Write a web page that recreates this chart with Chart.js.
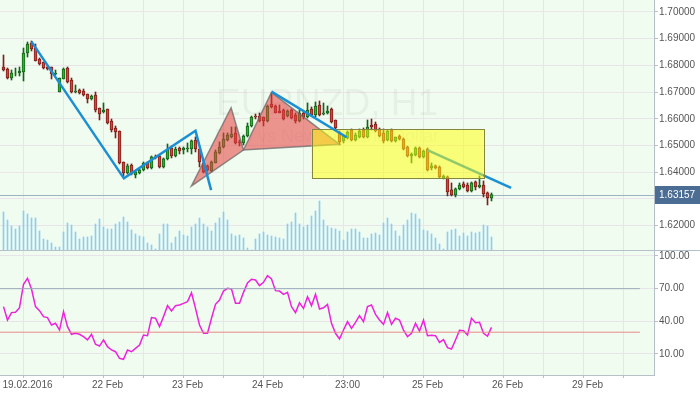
<!DOCTYPE html>
<html>
<head>
<meta charset="utf-8">
<script src="https://cdn.jsdelivr.net/npm/chart.js@4.4.1/dist/chart.umd.min.js"></script>
<style>
  html, body { margin: 0; padding: 0; background: #fff; }
  #wrap { position: relative; width: 700px; height: 394px; overflow: hidden; }
  #top { position: absolute; left: 0; top: 0; }
  #bottom { position: absolute; left: 0; top: 251px; }
</style>
</head>
<body>
<div id="wrap">
  <canvas id="top" width="700" height="251" style="width:700px;height:251px"></canvas>
  <canvas id="bottom" width="700" height="143" style="width:700px;height:143px"></canvas>
</div>
<script>
const symbol = "EURNZD, H1";
const symbolName = "Euro vs New Zealand Dollar";
const tickLabels = ["19.02.2016", "22 Feb", "23 Feb", "24 Feb", "23:00", "25 Feb", "26 Feb", "29 Feb"];
const tickIndex = [5, 25, 45, 65, 85, 105, 125, 145];

const opens = [
  1.67940, 1.67865, 1.67528, 1.67715, 1.67715, 1.67753, 1.68464, 1.68838, 1.68651, 1.68239,
  1.68127, 1.67940, 1.67940, 1.67678, 1.67004, 1.67491, 1.67903, 1.67453, 1.67004, 1.67079,
  1.67041, 1.66929, 1.66742, 1.66892, 1.66405, 1.66255, 1.66368, 1.65918, 1.65656, 1.65544,
  1.64383, 1.63972, 1.64271, 1.63897, 1.63972, 1.64084, 1.64346, 1.64159, 1.64571, 1.64608,
  1.64196, 1.64496, 1.64907, 1.64608, 1.64907, 1.64833, 1.64870, 1.64870, 1.65207, 1.64870,
  1.64346, 1.64234, 1.64046, 1.64346, 1.64720, 1.64945, 1.65207, 1.65319, 1.65469, 1.65132,
  1.65095, 1.65357, 1.65731, 1.66105, 1.66105, 1.66068, 1.65918, 1.66555, 1.66480, 1.66293,
  1.66330, 1.66105, 1.66330, 1.66143, 1.65918, 1.66218, 1.66068, 1.66368, 1.66143, 1.66517,
  1.66180, 1.66218, 1.66368, 1.65956, 1.65506, 1.65170, 1.65282, 1.65581, 1.65207, 1.65319,
  1.65581, 1.65319, 1.65768, 1.65806, 1.65619, 1.65469, 1.65207, 1.65581, 1.65170, 1.65357,
  1.65244, 1.64945, 1.64608, 1.64645, 1.64907, 1.64571, 1.64870, 1.64159, 1.64234, 1.64196,
  1.63784, 1.63822, 1.63335, 1.63148, 1.63373, 1.63560, 1.63522, 1.63298, 1.63635, 1.63448,
  1.63522, 1.63223, 1.63036
];
const highs = [
  1.68389, 1.67903, 1.67828, 1.67903, 1.67940, 1.68651, 1.68876, 1.68913, 1.68801, 1.68277,
  1.68127, 1.67977, 1.67940, 1.67828, 1.67528, 1.67903, 1.67940, 1.67528, 1.67266, 1.67116,
  1.67116, 1.66929, 1.66892, 1.67004, 1.66405, 1.66592, 1.66368, 1.65993, 1.65731, 1.65544,
  1.64383, 1.64309, 1.64309, 1.64046, 1.64121, 1.64383, 1.64383, 1.64608, 1.64645, 1.64645,
  1.64533, 1.65057, 1.64982, 1.64945, 1.64945, 1.64945, 1.65095, 1.65207, 1.65319, 1.64870,
  1.64383, 1.64271, 1.64421, 1.64833, 1.65132, 1.65469, 1.65469, 1.65694, 1.65694, 1.65207,
  1.65394, 1.65843, 1.66105, 1.66180, 1.66218, 1.66068, 1.66517, 1.66967, 1.66517, 1.66517,
  1.66368, 1.66330, 1.66368, 1.66218, 1.66330, 1.66255, 1.66592, 1.66442, 1.66630, 1.66667,
  1.66592, 1.66480, 1.66405, 1.65956, 1.65544, 1.65394, 1.65544, 1.65619, 1.65469, 1.65619,
  1.65656, 1.65956, 1.65993, 1.65881, 1.65656, 1.65619, 1.65581, 1.65619, 1.65319, 1.65394,
  1.65282, 1.64982, 1.64720, 1.64945, 1.64945, 1.64833, 1.64907, 1.64346, 1.64271, 1.64234,
  1.63897, 1.63859, 1.63597, 1.63410, 1.63597, 1.63635, 1.63597, 1.63635, 1.63672, 1.63859,
  1.63672, 1.63260, 1.63223
];
const lows = [
  1.67790, 1.67491, 1.67453, 1.67603, 1.67603, 1.67416, 1.68314, 1.68539, 1.68165, 1.68015,
  1.67865, 1.67828, 1.67491, 1.67640, 1.67004, 1.67491, 1.67341, 1.66967, 1.66967, 1.66929,
  1.66854, 1.66592, 1.66704, 1.66255, 1.65956, 1.66218, 1.65806, 1.65506, 1.65282, 1.64309,
  1.63859, 1.63934, 1.63897, 1.63784, 1.63934, 1.64046, 1.64121, 1.64121, 1.64496, 1.64159,
  1.64159, 1.64458, 1.64533, 1.64571, 1.64683, 1.64683, 1.64758, 1.64683, 1.64758, 1.64196,
  1.63972, 1.64046, 1.64009, 1.64346, 1.64683, 1.64907, 1.65170, 1.65282, 1.65057, 1.64982,
  1.65020, 1.65319, 1.65694, 1.65993, 1.65881, 1.65731, 1.65881, 1.66405, 1.66218, 1.66218,
  1.65956, 1.66068, 1.65993, 1.65843, 1.65881, 1.65993, 1.66031, 1.66105, 1.66068, 1.66105,
  1.66143, 1.66180, 1.65843, 1.65581, 1.65020, 1.65095, 1.65244, 1.65170, 1.65170, 1.65282,
  1.65282, 1.65282, 1.65581, 1.65506, 1.65319, 1.65095, 1.65170, 1.65132, 1.65132, 1.65207,
  1.64833, 1.64571, 1.64346, 1.64608, 1.64533, 1.64533, 1.64046, 1.64084, 1.64121, 1.63784,
  1.63747, 1.63111, 1.63111, 1.63073, 1.63335, 1.63410, 1.63260, 1.63260, 1.63335, 1.63410,
  1.63073, 1.62773, 1.62923
];
const closes = [
  1.67828, 1.67528, 1.67715, 1.67715, 1.67790, 1.68464, 1.68801, 1.68614, 1.68165, 1.68052,
  1.67903, 1.67865, 1.67678, 1.67715, 1.67528, 1.67865, 1.67378, 1.67004, 1.67041, 1.66967,
  1.66892, 1.66742, 1.66854, 1.66330, 1.66180, 1.66330, 1.65843, 1.65581, 1.65506, 1.64346,
  1.63972, 1.64234, 1.63934, 1.64009, 1.64084, 1.64346, 1.64159, 1.64571, 1.64533, 1.64196,
  1.64496, 1.64833, 1.64608, 1.64870, 1.64795, 1.64907, 1.64907, 1.65170, 1.64870, 1.64383,
  1.64009, 1.64084, 1.64383, 1.64758, 1.64945, 1.65244, 1.65394, 1.65432, 1.65095, 1.65095,
  1.65357, 1.65731, 1.66068, 1.66068, 1.65918, 1.65918, 1.66480, 1.66442, 1.66218, 1.66218,
  1.65993, 1.66293, 1.66031, 1.65918, 1.66218, 1.66068, 1.66330, 1.66143, 1.66480, 1.66143,
  1.66218, 1.66293, 1.65881, 1.65656, 1.65132, 1.65357, 1.65506, 1.65207, 1.65394, 1.65544,
  1.65319, 1.65694, 1.65694, 1.65544, 1.65357, 1.65170, 1.65544, 1.65170, 1.65319, 1.65244,
  1.64870, 1.64608, 1.64683, 1.64907, 1.64571, 1.64795, 1.64084, 1.64234, 1.64159, 1.63822,
  1.63859, 1.63260, 1.63148, 1.63373, 1.63522, 1.63448, 1.63298, 1.63597, 1.63448, 1.63522,
  1.63185, 1.63036, 1.63157
];
// tick volume, hundreds
const volumes = [
  38, 30, 24, 21, 24, 39, 36, 32, 32, 19, 11, 10, 7, 3, 3, 18, 27, 25, 18, 11,
  13, 13, 14, 26, 31, 23, 21, 21, 26, 28, 33, 28, 20, 16, 14, 13, 7, 5, 1, 16,
  26, 26, 7, 13, 19, 15, 14, 23, 26, 32, 26, 23, 19, 27, 32, 38, 30, 16, 14, 15,
  12, 2, 0, 11, 16, 18, 15, 14, 13, 12, 11, 26, 28, 37, 26, 23, 25, 34, 39, 49,
  30, 24, 22, 21, 19, 10, 18, 21, 21, 18, 12, 12, 16, 17, 15, 27, 32, 26, 19, 14,
  25, 30, 37, 36, 31, 20, 19, 16, 12, 6, 1, 18, 20, 21, 14, 17, 14, 18, 17, 18,
  25, 24, 13
];
const rsi = [
  53.5, 41.2, 48.0, 48.3, 52.5, 74.0, 79.5, 69.7, 53.5, 49.8,
  44.3, 43.4, 36.6, 38.2, 32.0, 48.9, 35.1, 28.1, 29.0, 28.1,
  25.9, 22.9, 28.1, 18.9, 17.3, 22.9, 16.7, 13.7, 12.1, 6.0,
  5.1, 13.7, 12.1, 15.2, 18.3, 27.4, 26.8, 43.4, 42.8, 35.1,
  44.3, 54.4, 49.5, 54.4, 55.0, 56.5, 58.1, 66.3, 51.9, 36.6,
  29.0, 29.0, 42.8, 55.6, 59.6, 67.8, 70.3, 69.7, 56.5, 56.5,
  66.6, 75.2, 78.6, 78.0, 72.8, 75.8, 81.9, 78.9, 68.2, 67.8,
  64.8, 66.6, 53.5, 48.0, 57.1, 51.9, 62.6, 54.4, 64.8, 51.3,
  52.5, 55.6, 38.2, 29.0, 23.8, 32.0, 39.7, 33.6, 39.1, 45.2,
  39.7, 53.5, 55.0, 46.4, 41.2, 37.2, 48.0, 37.2, 42.8, 41.2,
  32.0, 25.9, 29.0, 38.2, 31.1, 41.2, 26.8, 27.1, 26.8, 20.7,
  23.2, 15.8, 14.6, 22.9, 31.7, 31.4, 27.4, 42.8, 38.8, 39.1,
  29.0, 26.5, 34.5
];
const rsiLevels = [70, 30];
const priceTicks = [1.62, 1.63, 1.64, 1.65, 1.66, 1.67, 1.68, 1.69, 1.70];
const rsiTicks = [10, 40, 70, 100];

// drawing objects, [bar index, price]
const trendLines = [
  [[7.0, 1.68890], [30.1, 1.63770], [48.0, 1.65550], [51.9, 1.63330]],
  [[67.0, 1.67015], [85.8, 1.65310]]
];
const trendUnderBox = [[106.0, 1.64830], [126.9, 1.63410]];
const triangles = [
  [[47.0, 1.63485], [56.9, 1.66415], [60.0, 1.64830]],
  [[60.0, 1.64830], [67.0, 1.66990], [84.0, 1.65045]]
];
const box = [[77.0, 1.65615], [120.0, 1.63770]];

// view ranges
const xMin = -0.875, xMax = 162.625;
const priceMin = 1.61086, priceMax = 1.70449;
const rsiMin = -9.29, rsiMax = 104.59;
const levelEnd = 159.1;

const BG = '#f0fcf0', GRID = '#e9e4ea', EDGE = '#b6c0c8', TXT = '#555';
const UP = { fill: '#2ab52b', edge: '#15631a' };
const DN = { fill: '#d6433b', edge: '#7e1f1a' };

function hasFont(name) {
  const c = document.createElement('canvas').getContext('2d');
  c.font = '20px monospace';
  const w = c.measureText('1.70000 22 Feb').width;
  c.font = `20px "${name}", monospace`;
  return c.measureText('1.70000 22 Feb').width !== w;
}
const narrow = hasFont('Liberation Sans Narrow');
const axisFont = narrow ? { family: '"Liberation Sans Narrow", sans-serif', size: 12 }
                        : { family: '"Liberation Sans", Arial, sans-serif', size: 10 };
Chart.defaults.font.family = '"Liberation Sans", Arial, sans-serif';

const gridIdx = [];
for (let v = 5; v < xMax; v += 10) gridIdx.push(v);

const isUp = i => closes[i] >= opens[i];

// keep the plot edges fixed, no room for half labels
const fitY = s => { s.width = 46; s.paddingTop = 0; s.paddingBottom = 0; };

const areaBg = {
  id: 'areaBg',
  beforeDraw(chart) {
    const { ctx, chartArea: a } = chart;
    ctx.save();
    ctx.fillStyle = BG;
    ctx.fillRect(a.left, a.top, a.right - a.left, a.bottom - a.top);
    ctx.restore();
  }
};

const watermark = {
  id: 'watermark',
  beforeDatasetsDraw(chart) {
    const { ctx, chartArea: a, scales } = chart;
    const cx = (a.left + a.right) / 2;
    ctx.save();
    ctx.fillStyle = 'rgba(0,0,0,0.045)';
    ctx.textAlign = 'center';
    ctx.textBaseline = 'middle';
    ctx.font = '37px "Liberation Sans", Arial, sans-serif';
    ctx.fillText(symbol, cx, 105);
    ctx.font = '18px "Liberation Sans", Arial, sans-serif';
    ctx.fillText(symbolName, cx, 137);
    // last price line
    const y = Math.round(scales.y.getPixelForValue(closes[closes.length - 1])) + 0.5;
    ctx.strokeStyle = '#9db2c4';
    ctx.lineWidth = 1;
    ctx.beginPath();
    ctx.moveTo(a.left, y);
    ctx.lineTo(a.right, y);
    ctx.stroke();
    ctx.restore();
  }
};

const drawings = {
  id: 'drawings',
  afterDatasetsDraw(chart) {
    const { ctx, scales: { x, y } } = chart;
    const pt = p => [x.getPixelForValue(p[0]), y.getPixelForValue(p[1])];
    const path = pts => {
      ctx.beginPath();
      pts.forEach((p, k) => { const [a, b] = pt(p); k ? ctx.lineTo(a, b) : ctx.moveTo(a, b); });
    };
    ctx.save();
    triangles.forEach(t => {
      path(t);
      ctx.closePath();
      ctx.fillStyle = 'rgba(232,62,62,0.55)';
      ctx.fill();
      ctx.strokeStyle = 'rgba(105,105,105,0.75)';
      ctx.lineWidth = 1.5;
      ctx.stroke();
    });
    ctx.strokeStyle = '#1b8fd4';
    ctx.lineWidth = 2.5;
    path(trendUnderBox);
    ctx.stroke();

    const [p0, p1] = [pt(box[0]), pt(box[1])];
    ctx.fillStyle = 'rgba(255,255,10,0.52)';
    ctx.fillRect(p0[0], p0[1], p1[0] - p0[0], p1[1] - p0[1]);
    ctx.strokeStyle = '#85853c';
    ctx.lineWidth = 1;
    ctx.strokeRect(Math.round(p0[0]) + 0.5, Math.round(p0[1]) + 0.5, Math.round(p1[0] - p0[0]), Math.round(p1[1] - p0[1]));

    ctx.strokeStyle = '#1b8fd4';
    ctx.lineWidth = 2.5;
    trendLines.forEach(l => { path(l); ctx.stroke(); });
    ctx.restore();
  },
  afterDraw(chart) {
    const { ctx, chartArea: a, scales: { y } } = chart;
    const last = closes[closes.length - 1];
    const py = Math.round(y.getPixelForValue(last));
    ctx.save();
    // panel separator
    ctx.strokeStyle = EDGE;
    ctx.lineWidth = 1;
    ctx.beginPath();
    ctx.moveTo(0, a.bottom + 0.5);
    ctx.lineTo(chart.width, a.bottom + 0.5);
    ctx.stroke();
    // price tag
    ctx.fillStyle = '#4b6c93';
    ctx.fillRect(a.right + 1, py - 9, chart.width - a.right - 1, 18);
    ctx.fillStyle = '#fff';
    ctx.font = `${axisFont.size}px ${axisFont.family}`;
    ctx.textBaseline = 'middle';
    ctx.fillText(last.toFixed(5), a.right + 5, py + 0.5);
    ctx.restore();
  }
};

const candleBody = opens.map((o, i) => {
  let lo = Math.min(o, closes[i]), hi = Math.max(o, closes[i]);
  if (hi - lo < 0.00003) { lo -= 0.000015; hi += 0.000015; }
  return { x: i, y: [lo, hi] };
});

new Chart(document.getElementById('top'), {
  type: 'bar',
  data: {
    datasets: [
      {
        data: volumes.map((v, i) => ({ x: i, y: v })),
        yAxisID: 'vol',
        backgroundColor: '#8ccdf0',
        barThickness: 1,
        grouped: false,
        order: 3
      },
      {
        data: opens.map((o, i) => ({ x: i, y: [lows[i], highs[i]] })),
        backgroundColor: opens.map((o, i) => isUp(i) ? UP.edge : DN.edge),
        barThickness: 1,
        grouped: false,
        order: 2
      },
      {
        data: candleBody,
        backgroundColor: opens.map((o, i) => isUp(i) ? UP.fill : DN.fill),
        borderColor: opens.map((o, i) => isUp(i) ? UP.edge : DN.edge),
        borderWidth: 1,
        borderSkipped: false,
        barThickness: 3,
        grouped: false,
        order: 1
      }
    ]
  },
  options: {
    responsive: false,
    animation: false,
    events: [],
    layout: { padding: { left: 0, right: 0, top: 0, bottom: 1 } },
    plugins: { legend: { display: false }, tooltip: { enabled: false } },
    scales: {
      x: {
        type: 'linear', min: xMin, max: xMax, offset: false,
        grid: { color: GRID, drawTicks: false, offset: false },
        border: { display: false },
        ticks: { display: false },
        afterBuildTicks: s => { s.ticks = gridIdx.map(v => ({ value: v })); },
        afterFit: s => { s.height = 0; s.paddingLeft = 0; s.paddingRight = 0; }
      },
      y: {
        position: 'right', min: priceMin, max: priceMax,
        grid: { color: GRID, tickColor: EDGE, tickLength: 4 },
        border: { color: EDGE },
        ticks: {
          color: TXT, font: axisFont, padding: 1, autoSkip: false,
          callback: v => Math.abs(v - 1.63) < 1e-6 ? '' : v.toFixed(5)
        },
        afterBuildTicks: s => { s.ticks = priceTicks.map(v => ({ value: v })); },
        afterFit: fitY
      },
      vol: { display: false, min: 0, max: 250 }
    }
  },
  plugins: [areaBg, watermark, drawings]
});

new Chart(document.getElementById('bottom'), {
  type: 'line',
  data: {
    datasets: [
      {
        data: [{ x: xMin, y: rsiLevels[0] }, { x: levelEnd, y: rsiLevels[0] }],
        borderColor: '#9aaabb', borderWidth: 1, pointRadius: 0
      },
      {
        data: [{ x: xMin, y: rsiLevels[1] }, { x: levelEnd, y: rsiLevels[1] }],
        borderColor: '#e88a88', borderWidth: 1, pointRadius: 0
      },
      {
        data: rsi.map((v, i) => ({ x: i, y: v })),
        borderColor: '#ee22dd', borderWidth: 1.5, pointRadius: 0, tension: 0
      }
    ]
  },
  options: {
    responsive: false,
    animation: false,
    events: [],
    layout: { padding: 0 },
    plugins: { legend: { display: false }, tooltip: { enabled: false } },
    scales: {
      x: {
        type: 'linear', min: xMin, max: xMax,
        grid: { color: GRID, tickColor: EDGE, tickLength: 3 },
        border: { color: EDGE },
        ticks: {
          color: TXT, font: axisFont, padding: 1, labelOffset: 4,
          autoSkip: false, maxRotation: 0,
          callback: v => { const k = tickIndex.indexOf(v); return k >= 0 ? tickLabels[k] : ''; }
        },
        afterBuildTicks: s => { s.ticks = gridIdx.map(v => ({ value: v })); },
        afterFit: s => { s.height = 19; s.paddingLeft = 0; s.paddingRight = 0; }
      },
      y: {
        position: 'right', min: rsiMin, max: rsiMax,
        grid: { color: GRID, tickColor: EDGE, tickLength: 4 },
        border: { color: EDGE },
        ticks: { color: TXT, font: axisFont, padding: 1, autoSkip: false, callback: v => v.toFixed(2) },
        afterBuildTicks: s => { s.ticks = rsiTicks.map(v => ({ value: v })); },
        afterFit: fitY
      }
    }
  },
  plugins: [areaBg]
});
</script>
</body>
</html>
